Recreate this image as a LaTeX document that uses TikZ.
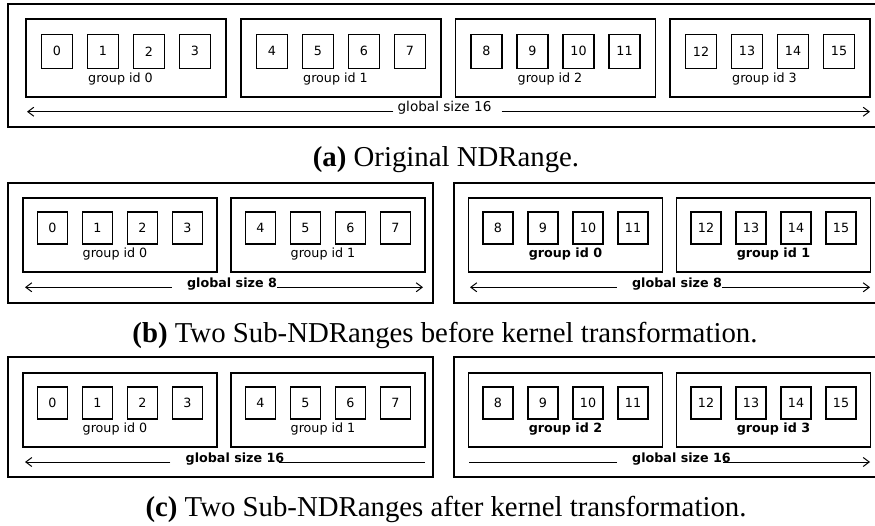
\documentclass[tikz,border=0pt]{standalone}
\usepackage{fontspec}
\setmainfont{Liberation Serif}
\setsansfont{DejaVu Sans}
\usetikzlibrary{arrows.meta}
\newcommand\lblfont{\fontsize{12.7}{15}\selectfont\sffamily}
\newcommand\biglblfont{\fontsize{13.6}{16}\selectfont\sffamily}
\newcommand\capfont{\fontsize{28.8}{34}\selectfont\rmfamily}
\begin{document}
\begin{tikzpicture}[x=1pt,y=-1pt,
  outerbox/.style={draw, line width=1.3pt, inner sep=0pt},
  grpbox/.style={draw, line width=1.05pt, inner sep=0pt},
  cellA/.style={draw, line width=1.05pt, inner sep=0pt, minimum width=31pt, minimum height=34pt, font=\lblfont},
  cellB/.style={draw, line width=1.05pt, inner sep=0pt, minimum width=30pt, minimum height=32pt, font=\lblfont},
  lbl/.style={inner sep=0pt, anchor=base, font=\lblfont},
  blbl/.style={inner sep=0pt, anchor=base, font=\lblfont\bfseries},
  biglbl/.style={inner sep=0pt, anchor=base, font=\biglblfont},
  captext/.style={inner sep=0pt, anchor=base, font=\capfont},
  conn/.style={line width=1pt},
  tip/.style={-{Straight Barb[length=6pt,width=9pt]}}
]
\useasboundingbox (0,0) rectangle (875,525);

% ---------------- panel (a)
\node[outerbox, minimum width=877pt, minimum height=123pt] (A) at (446.5,65.5) {};
\foreach \g/\gx in {0/126,1/341,2/555.5,3/770} {
  \node[grpbox, minimum width=200pt, minimum height=78pt] (Ag\g) at (\gx,58) {};
  \foreach \k/\dx in {0/-69,1/-23,2/23,3/69} {
    \pgfmathtruncatemacro\c{4*\g+\k}
    \node[cellA] (Ac\c) at (\gx+\dx,51.3) {\c};
  }
  \node[lbl] (Al\g) at (\gx-5.5,82.5) {group id \g};
}
\node[biglbl] (At) at (444.5,111.7) {global size 16};
\coordinate (AL) at (27,111.7);
\coordinate (AR) at (870,111.7);
\draw[conn,tip] ([xshift=-4pt]At.base west) -- (AL);
\draw[conn,tip] ([xshift=10pt]At.base east) -- (AR);
\node[captext] (Acap) at (446,166) {\textbf{(a)} Original NDRange.};

% ---------------- panel (b)
\node[outerbox, minimum width=425pt, minimum height=120pt] (B1) at (220.5,243) {};
\node[outerbox, minimum width=425pt, minimum height=120pt] (B2) at (666.5,243) {};
\foreach \g/\gx in {0/120,1/328,2/565.5,3/773.5} {
  \node[grpbox, minimum width=194pt, minimum height=74pt] (Bg\g) at (\gx,235) {};
  \foreach \k/\dx in {0/-67.5,1/-22.5,2/22.5,3/67.5} {
    \pgfmathtruncatemacro\c{4*\g+\k}
    \node[cellB] (Bc\c) at (\gx+\dx,228) {\c};
  }
}
\node[lbl] (Bl0) at (115,257) {group id 0};
\node[lbl] (Bl1) at (323,257) {group id 1};
\node[blbl] (Bl2) at (565.5,257) {group id 0};
\node[blbl] (Bl3) at (773.5,257) {group id 1};
\node[blbl] (Bt1) at (232,287.3) {global size 8};
\node[blbl] (Bt2) at (677,287.3) {global size 8};
\coordinate (BL1) at (25,287.3);
\coordinate (BR1) at (423,287.3);
\coordinate (BL2) at (470,287.3);
\coordinate (BR2) at (870,287.3);
\draw[conn,tip] ([xshift=-15pt]Bt1.base west) -- (BL1);
\draw[conn,tip] (Bt1.base east) -- (BR1);
\draw[conn,tip] ([xshift=-15pt]Bt2.base west) -- (BL2);
\draw[conn,tip] (Bt2.base east) -- (BR2);
\node[captext] (Bcap) at (445,342) {\textbf{(b)} Two Sub-NDRanges before kernel transformation.};

% ---------------- panel (c)
\node[outerbox, minimum width=425pt, minimum height=120pt] (C1) at (220.5,417) {};
\node[outerbox, minimum width=425pt, minimum height=120pt] (C2) at (666.5,417) {};
\foreach \g/\gx in {0/120,1/328,2/565.5,3/773.5} {
  \node[grpbox, minimum width=194pt, minimum height=74pt] (Cg\g) at (\gx,410) {};
  \foreach \k/\dx in {0/-67.5,1/-22.5,2/22.5,3/67.5} {
    \pgfmathtruncatemacro\c{4*\g+\k}
    \node[cellB] (Cc\c) at (\gx+\dx,403) {\c};
  }
}
\node[lbl] (Cl0) at (115,432) {group id 0};
\node[lbl] (Cl1) at (323,432) {group id 1};
\node[blbl] (Cl2) at (565.5,432) {group id 2};
\node[blbl] (Cl3) at (773.5,432) {group id 3};
\node[blbl] (Ct1) at (235,462) {global size 16};
\node[blbl] (Ct2) at (681.5,462) {global size 16};
\coordinate (CL1) at (25,462);
\coordinate (CR1) at (425,462);
\coordinate (CL2) at (469,462);
\coordinate (CR2) at (870,462);
\draw[conn,tip] ([xshift=-15pt]Ct1.base west) -- (CL1);
\draw[conn] ([xshift=-6pt]Ct1.base east) -- (CR1);
\draw[conn] ([xshift=-15pt]Ct2.base west) -- (CL2);
\draw[conn,tip] ([xshift=-8pt]Ct2.base east) -- (CR2);
\node[captext] (Ccap) at (446,516) {\textbf{(c)} Two Sub-NDRanges after kernel transformation.};
\end{tikzpicture}
\end{document}
